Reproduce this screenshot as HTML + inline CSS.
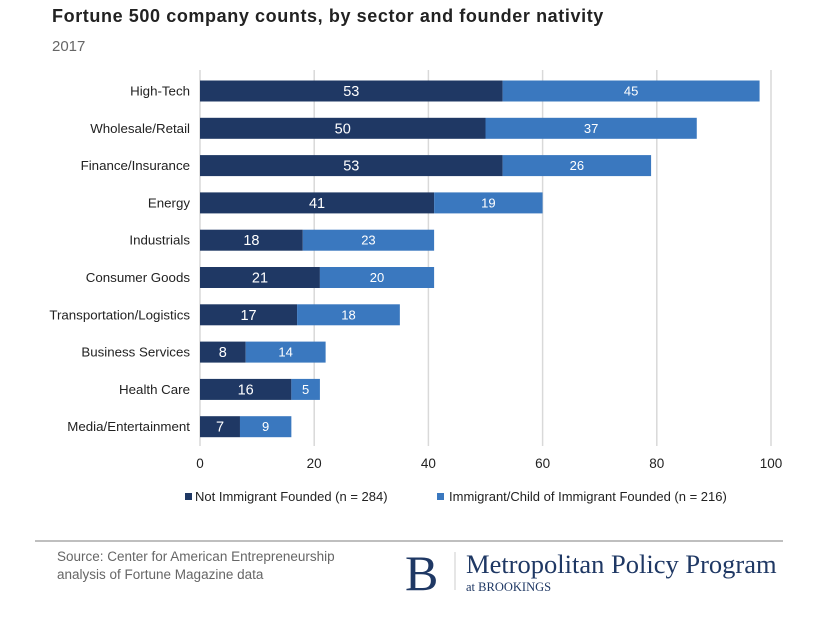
<!DOCTYPE html>
<html><head><meta charset="utf-8">
<style>
body{margin:0;background:#fff;width:817px;height:628px;overflow:hidden;font-family:"Liberation Sans",sans-serif;}
</style></head><body>
<svg width="817" height="628" xmlns="http://www.w3.org/2000/svg">
<text x="52" y="22" font-size="18" font-weight="bold" fill="#222" letter-spacing="0.6">Fortune 500 company counts, by sector and founder nativity</text>
<text x="52" y="51" font-size="15" fill="#666">2017</text>
<g id="grid"></g>
<g id="bars"></g>
<g id="legend">
<rect x="185" y="493" width="7" height="7" fill="#1f3864"/>
<text x="195" y="501" font-size="13" fill="#222">Not Immigrant Founded (n = 284)</text>
<rect x="437" y="493" width="7" height="7" fill="#3a78bf"/>
<text x="449" y="501" font-size="13" fill="#222">Immigrant/Child of Immigrant Founded (n = 216)</text>
</g>
<line x1="35" y1="541" x2="783" y2="541" stroke="#aaa" stroke-width="1.5"/>
<text x="57" y="561" font-size="13.5" fill="#666">Source: Center for American Entrepreneurship</text>
<text x="57" y="579" font-size="13.5" fill="#666">analysis of Fortune Magazine data</text>
<text x="405" y="590" font-size="50" font-family="Liberation Serif,serif" fill="#1f3864">B</text>
<line x1="455" y1="552" x2="455" y2="590" stroke="#ccc"/>
<text x="466" y="573" font-size="26.5" font-family="Liberation Serif,serif" fill="#1f3864">Metropolitan Policy Program</text>
<text x="466" y="591" font-size="12.5" font-family="Liberation Serif,serif" fill="#1f3864">at BROOKINGS</text>
</svg>
<script>
const categories=["High-Tech","Wholesale/Retail","Finance/Insurance","Energy","Industrials","Consumer Goods","Transportation/Logistics","Business Services","Health Care","Media/Entertainment"];
const notImmigrant=[53,50,53,41,18,21,17,8,16,7];
const immigrant=[45,37,26,19,23,20,18,14,5,9];
const ticks=[0,20,40,60,80,100];
const NS="http://www.w3.org/2000/svg";
const x0=200,x1=771,max=100;
const xs=v=>x0+(v/max)*(x1-x0);
const ys=i=>91+i*37.3;
const bh=21;
const grid=document.getElementById('grid'),bars=document.getElementById('bars');
function mk(tag,attrs,parent,txt){const e=document.createElementNS(NS,tag);for(const k in attrs)e.setAttribute(k,attrs[k]);if(txt!==undefined)e.textContent=txt;parent.appendChild(e);return e;}
ticks.forEach(t=>{
  const l=mk('line',{x1:xs(t),x2:xs(t),y1:70,y2:446,stroke:'#d9d9d9','stroke-width':1.5},grid);
  
  
  const tx=mk('text',{x:xs(t),y:468,'font-size':13.5,fill:'#222','text-anchor':'middle'},grid,t);
  
  
});
categories.forEach((c,i)=>{
  const y=ys(i);
  const lab=mk('text',{x:190,y:y+4.5,'font-size':13.3,fill:'#222','text-anchor':'end'},bars,c);
  
  
  const a=notImmigrant[i],b=immigrant[i];
  const r1=mk('rect',{x:xs(0),y:y-bh/2,width:xs(a)-xs(0),height:bh,fill:'#1f3864'},bars);
  
  
  const r2=mk('rect',{x:xs(a),y:y-bh/2,width:xs(a+b)-xs(a),height:bh,fill:'#3a78bf'},bars);
  
  
  const t1=mk('text',{x:(xs(0)+xs(a))/2,y:y+5,'font-size':14.5,fill:'#fff','text-anchor':'middle'},bars,a);
  
  
  const t2=mk('text',{x:(xs(a)+xs(a+b))/2,y:y+4.5,'font-size':13,fill:'#fff','text-anchor':'middle'},bars,b);
  
  
});
</script>
</body></html>
